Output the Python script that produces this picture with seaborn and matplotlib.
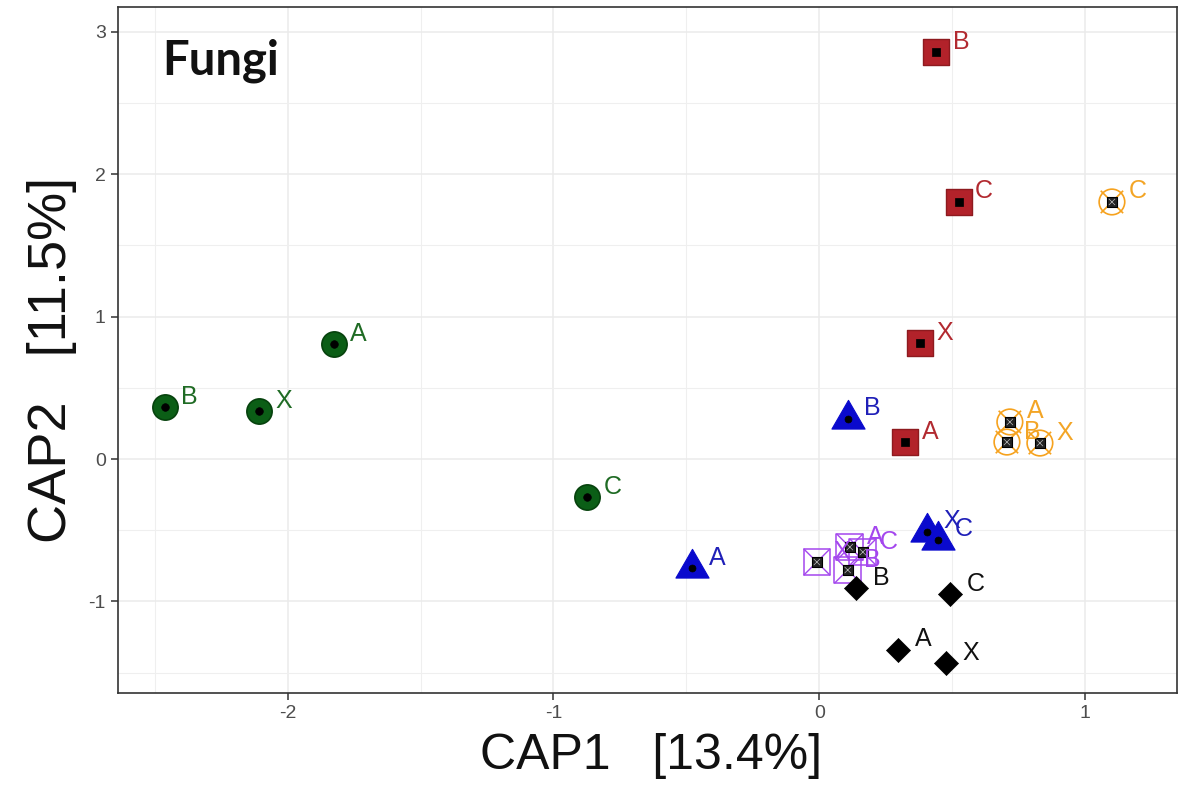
import numpy as np
import pandas as pd
import matplotlib.pyplot as plt
import seaborn as sns
from matplotlib.path import Path
from matplotlib.ticker import MultipleLocator

# CAP scores, one list per group (label = sample)
green_lab = ['A', 'B', 'X', 'C']
green_x = [-1.827, -2.462, -2.108, -0.874]
green_y = [0.807, 0.365, 0.337, -0.267]

red_lab = ['B', 'C', 'X', 'A']
red_x = [0.439, 0.524, 0.379, 0.322]
red_y = [2.854, 1.806, 0.814, 0.119]

blue_lab = ['B', 'A', 'X', 'C']
blue_x = [0.107, -0.479, 0.405, 0.446]
blue_y = [0.281, -0.765, -0.512, -0.568]

orange_lab = ['A', 'B', 'X', 'C']
orange_x = [0.717, 0.706, 0.830, 1.101]
orange_y = [0.260, 0.119, 0.112, 1.804]

purple_lab = ['X', 'A', 'C', 'B']
purple_x = [-0.009, 0.115, 0.164, 0.107]
purple_y = [-0.723, -0.618, -0.653, -0.779]

black_lab = ['B', 'C', 'A', 'X']
black_x = [0.138, 0.492, 0.296, 0.476]
black_y = [-0.907, -0.950, -1.340, -1.434]

x_ticks = [-2, -1, 0, 1]
y_ticks = [-1, 0, 1, 2, 3]

frames = []
for g, lab, xs, ys in [('green', green_lab, green_x, green_y),
                       ('red', red_lab, red_x, red_y),
                       ('blue', blue_lab, blue_x, blue_y),
                       ('orange', orange_lab, orange_x, orange_y),
                       ('purple', purple_lab, purple_x, purple_y),
                       ('black', black_lab, black_x, black_y)]:
    frames.append(pd.DataFrame({'group': g, 'label': lab, 'CAP1': xs, 'CAP2': ys}))
df = pd.concat(frames, ignore_index=True)

cols = {'green': '#0b5e16', 'red': '#b2222a', 'blue': '#0a0acd',
        'orange': '#f6a21e', 'purple': '#a447ee', 'black': '#000000'}
lab_cols = {'green': '#1f6b24', 'red': '#b22a30', 'blue': '#2020b8',
            'orange': '#f3a526', 'purple': '#a447ee', 'black': '#111111'}

# equilateral triangle centred on its centroid (like R pch 17)
tri = Path([(0, 1), (-0.866, -0.5), (0.866, -0.5), (0, 1)],
           [Path.MOVETO, Path.LINETO, Path.LINETO, Path.CLOSEPOLY])

sns.set_theme(style='white')
plt.rcParams['font.family'] = ['Liberation Sans', 'DejaVu Sans']

fig = plt.figure(figsize=(11.91, 7.89), dpi=100)
ax = fig.add_axes([0.0993, 0.1217, 0.8890, 0.8694])


def pts(data, **kw):
    sns.scatterplot(data=data, x='CAP1', y='CAP2', ax=ax, legend=False, **kw)


d = df[df.group == 'green']
pts(d, marker='o', s=330, facecolor=cols['green'], edgecolor='#06420d', linewidth=1.2, zorder=3)
pts(d, marker='o', s=30, facecolor='black', edgecolor='black', linewidth=0.5, zorder=4)

d = df[df.group == 'red']
pts(d, marker='s', s=350, facecolor=cols['red'], edgecolor='#8e1a1f', linewidth=1.0, zorder=3)
pts(d, marker='s', s=30, facecolor='black', edgecolor='black', linewidth=0.5, zorder=4)

d = df[df.group == 'blue']
pts(d, marker=tri, s=760, facecolor=cols['blue'], edgecolor=cols['blue'], linewidth=0.8, zorder=3)
pts(d, marker='o', s=25, facecolor='black', edgecolor='black', linewidth=0.5, zorder=4)

d = df[df.group == 'orange']
pts(d, marker='o', s=340, facecolor='none', edgecolor=cols['orange'], linewidth=1.2, zorder=3)
pts(d, marker='x', s=260, c=[cols['orange']] * len(d), linewidth=1.2, zorder=3)
pts(d, marker='s', s=45, facecolor='#222222', edgecolor='black', linewidth=0.8, zorder=4)
pts(d, marker='x', s=20, c=['#bbbbbb'] * len(d), linewidth=0.5, zorder=4)

d = df[df.group == 'purple']
pts(d, marker='s', s=370, facecolor='none', edgecolor=cols['purple'], linewidth=1.1, zorder=3)
pts(d, marker='x', s=370, c=[cols['purple']] * len(d), linewidth=1.0, zorder=3)
pts(d, marker='s', s=45, facecolor='#222222', edgecolor='black', linewidth=0.8, zorder=4)
pts(d, marker='x', s=20, c=['#bbbbbb'] * len(d), linewidth=0.5, zorder=4)

d = df[df.group == 'black']
pts(d, marker='D', s=150, facecolor='black', edgecolor='black', linewidth=0.5, zorder=5)

for _, r in df.iterrows():
    ax.annotate(r['label'], (r['CAP1'], r['CAP2']), xytext=(12, 2.5),
                textcoords='offset points', ha='left', va='baseline',
                fontsize=18, color=lab_cols[r['group']], zorder=6)

ax.set_xlim(-2.637, 1.346)
ax.set_ylim(-1.642, 3.172)
ax.set_xticks(x_ticks)
ax.set_yticks(y_ticks)
ax.set_xticklabels([str(v) for v in x_ticks])
ax.set_yticklabels([str(v) for v in y_ticks])
ax.xaxis.set_minor_locator(MultipleLocator(0.5))
ax.yaxis.set_minor_locator(MultipleLocator(0.5))
ax.grid(which='major', color='#ebebeb', linewidth=1.1)
ax.grid(which='minor', color='#efefef', linewidth=0.8)
ax.set_axisbelow(True)
ax.tick_params(which='major', length=5, width=1.1, color='#333333',
               labelsize=14, labelcolor='#4d4d4d', pad=4, bottom=True, left=True)
ax.tick_params(which='minor', length=0)
for sp in ax.spines.values():
    sp.set_color('#333333')
    sp.set_linewidth(1.2)

ax.set_xlabel('CAP1   [13.4%]', fontsize=36, color='#111111')
ax.set_ylabel('CAP2   [11.5%]', fontsize=39, color='#111111')
ax.xaxis.set_label_coords(0.503, -0.058)
ax.yaxis.set_label_coords(-0.039, 0.485)

ax.text(0.0415, 0.902, 'Fungi', transform=ax.transAxes, fontfamily='Lato',
        fontweight='bold', fontsize=34, va='baseline', color='#111111')

fig.savefig('out.png', dpi=100)
